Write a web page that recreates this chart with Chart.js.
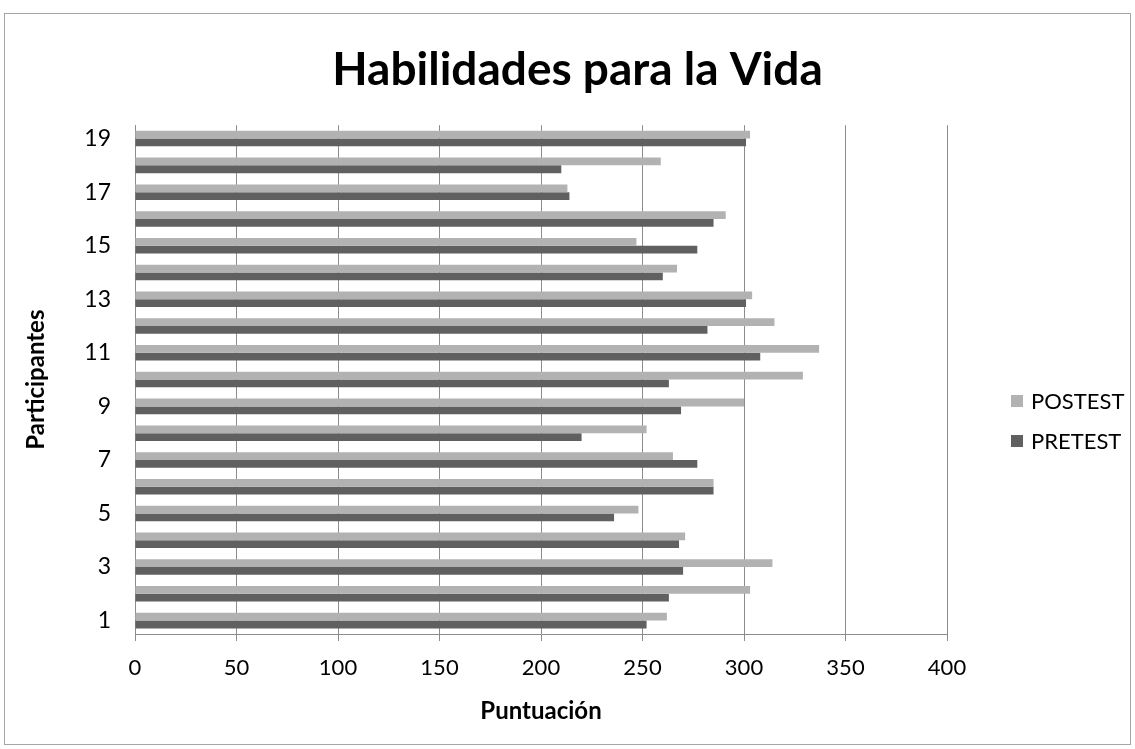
<!DOCTYPE html>
<html lang="es">
<head>
<meta charset="utf-8">
<title>Habilidades para la Vida</title>
<script src="https://cdn.jsdelivr.net/npm/chart.js@4.4.1/dist/chart.umd.min.js"></script>
<style>
  html, body { margin: 0; padding: 0; background: #ffffff; }
  #wrap { position: absolute; left: 0; top: 0; width: 1135px; height: 749px; }
</style>
</head>
<body>
<div id="wrap"><canvas id="chart" width="1135" height="749"></canvas></div>
<script>
// Participants 1..19 (bottom to top on the chart)
const participants = ['1','2','3','4','5','6','7','8','9','10','11','12','13','14','15','16','17','18','19'];

// Scores per participant
const postest = [262, 303, 314, 271, 248, 285, 265, 252, 300, 329, 337, 315, 304, 267, 247, 291, 213, 259, 303];
const pretest = [252, 263, 270, 268, 236, 285, 277, 220, 269, 263, 308, 282, 301, 260, 277, 285, 214, 210, 301];

// Score axis
const scoreMin = 0;
const scoreMax = 400;
const scoreStep = 50;

const FONT = 'Lato, "Open Sans", "DejaVu Sans", sans-serif';
const POST_COLOR = '#b2b2b2';
const PRE_COLOR = '#606060';
const GRID_COLOR = '#8c8c8c';

// White page with a thin frame around the chart
const framePlugin = {
  id: 'frame',
  beforeDraw(chart) {
    const ctx = chart.ctx;
    ctx.save();
    ctx.fillStyle = '#ffffff';
    ctx.fillRect(0, 0, chart.width, chart.height);
    ctx.strokeStyle = '#a6a6a6';
    ctx.lineWidth = 1;
    ctx.strokeRect(4.5, 13.5, 1126, 731);
    ctx.restore();
  }
};

// Legend drawn as a column on the right, series order as listed
const sideLegend = {
  id: 'sideLegend',
  afterDraw(chart) {
    const ctx = chart.ctx;
    const items = chart.data.datasets;
    const x = 1011;
    const y0 = 401;
    const gap = 40;
    ctx.save();
    ctx.font = '22px ' + FONT;
    ctx.textBaseline = 'middle';
    ctx.textAlign = 'left';
    items.forEach((ds, i) => {
      const y = y0 + i * gap;
      ctx.fillStyle = ds.backgroundColor;
      ctx.fillRect(x, y - 6, 12, 12);
      ctx.fillStyle = '#000000';
      ctx.fillText(ds.label, x + 20, y + 1);
    });
    ctx.restore();
  }
};

new Chart(document.getElementById('chart'), {
  type: 'bar',
  data: {
    labels: participants,
    datasets: [
      { label: 'POSTEST', data: postest, backgroundColor: POST_COLOR,
        borderWidth: 0, categoryPercentage: 0.58, barPercentage: 1.0 },
      { label: 'PRETEST', data: pretest, backgroundColor: PRE_COLOR,
        borderWidth: 0, categoryPercentage: 0.58, barPercentage: 1.0 }
    ]
  },
  options: {
    indexAxis: 'y',
    responsive: false,
    animation: false,
    layout: { padding: { left: 20, right: 0, top: 0, bottom: 0 } },
    plugins: {
      legend: { display: false },
      tooltip: { enabled: false },
      title: {
        display: true,
        text: 'Habilidades para la Vida',
        color: '#000000',
        font: { family: FONT, size: 46, weight: 'bold' },
        padding: { top: 43, bottom: 27 }
      }
    },
    scales: {
      x: {
        type: 'linear',
        min: scoreMin,
        max: scoreMax,
        ticks: {
          stepSize: scoreStep,
          color: '#000000',
          font: { family: FONT, size: 22 },
          padding: 14
        },
        grid: {
          color: GRID_COLOR,
          lineWidth: 1,
          drawTicks: true,
          tickLength: 7
        },
        border: { display: true, color: GRID_COLOR },
        title: {
          display: true,
          text: 'Puntuación',
          color: '#000000',
          font: { family: FONT, size: 24, weight: 'bold' },
          padding: { top: 0, bottom: 23 }
        },
        afterFit(scale) { scale.height = 115; }
      },
      y: {
        type: 'category',
        reverse: true,
        offset: true,
        ticks: {
          autoSkip: false,
          color: '#000000',
          font: { family: FONT, size: 23 },
          padding: 24,
          callback(value, index) {
            return index % 2 === 0 ? this.getLabelForValue(value) : '';
          }
        },
        grid: { display: false, drawTicks: false },
        border: { display: true, color: GRID_COLOR },
        title: {
          display: true,
          text: 'Participantes',
          color: '#000000',
          font: { family: FONT, size: 24, weight: 'bold' },
          padding: { top: 2, bottom: 0 }
        },
        afterFit(scale) { scale.width = 115; }
      },
      // empty band on the right that holds the legend
      legendBand: {
        type: 'category',
        axis: 'y',
        position: 'right',
        display: true,
        ticks: { display: false },
        grid: { display: false, drawTicks: false },
        border: { display: false },
        afterFit(scale) { scale.width = 188; }
      }
    }
  },
  plugins: [framePlugin, sideLegend]
});
</script>
</body>
</html>
